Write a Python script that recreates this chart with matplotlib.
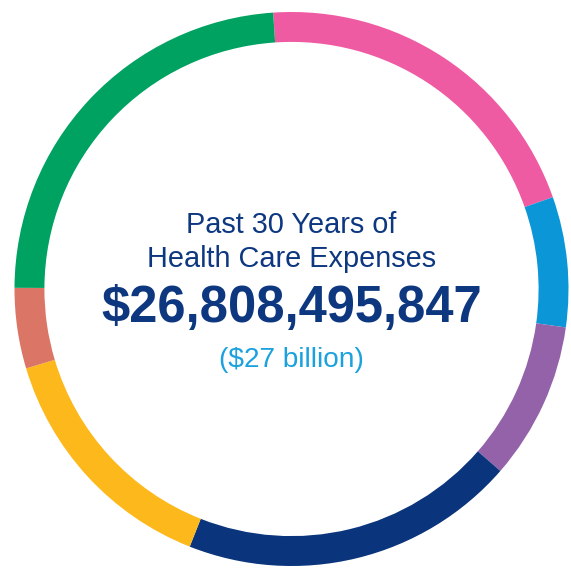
import matplotlib
matplotlib.use("Agg")
import matplotlib.pyplot as plt

# Share of total expenses by category (percent), clockwise from the top
shares = [20.7, 7.6, 9.2, 19.6, 14.4, 4.7, 23.9]
colors = ["#EF5BA2", "#0A96D7", "#9462A9", "#0A347C", "#FDB81B", "#DB7566", "#00A261"]

title_lines = ["Past 30 Years of", "Health Care Expenses"]
total_text = "$26,808,495,847"
total_short = "($27 billion)"

W = 571
fig = plt.figure(figsize=(W / 100, W / 100), dpi=100)
cx, cy, R = 291.5, 289, 277
ax = fig.add_axes([(cx - R) / W, (W - cy - R) / W, 2 * R / W, 2 * R / W])

ax.pie(shares, colors=colors, startangle=93.8, counterclock=False, radius=1.0,
       wedgeprops=dict(width=0.108, edgecolor="none", linewidth=0))
ax.set_xlim(-1, 1)
ax.set_ylim(-1, 1)
ax.set_aspect("equal")
ax.axis("off")

font = "Liberation Sans"
navy = "#0D3880"
ax.text(0, 0.202, title_lines[0], ha="center", va="baseline", fontsize=20.8,
        color=navy, family=font)
ax.text(0, 0.079, title_lines[1], ha="center", va="baseline", fontsize=20.8,
        color=navy, family=font)
ax.text(0, -0.119, total_text, ha="center", va="baseline", fontsize=36.5,
        color=navy, family=font, fontweight="bold")
ax.text(0, -0.282, total_short, ha="center", va="baseline", fontsize=20.2,
        color="#1BA1DE", family=font)

fig.savefig("out.png", dpi=100, facecolor="white")
